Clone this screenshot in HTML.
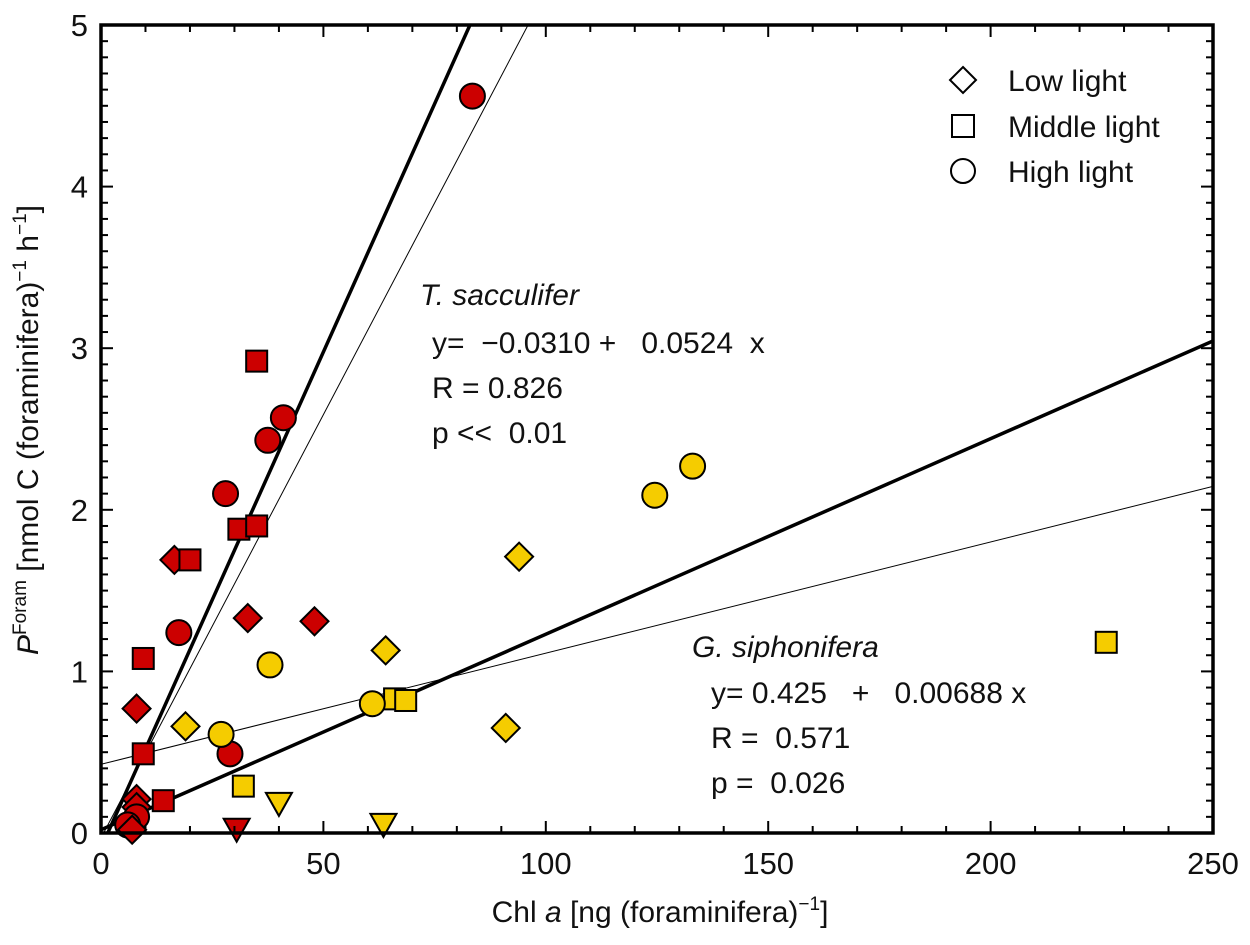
<!DOCTYPE html>
<html><head><meta charset="utf-8"><style>
body{margin:0;background:#fff;}
svg{display:block;font-family:"Liberation Sans",sans-serif;}
text{white-space:pre;}
</style></head><body>
<svg id="chart" width="1250" height="945" viewBox="0 0 1250 945">
<g id="lines"></g>
<g id="marks"></g>
<g id="axes"></g>
<g font-size="30" fill="#111">
<text x="420" y="305" font-style="italic">T. sacculifer</text>
<text x="432" y="353">y=  −0.0310 +   0.0524  x</text>
<text x="432" y="398">R = 0.826</text>
<text x="432" y="443">p &lt;&lt;  0.01</text>
<text x="692" y="657" font-style="italic">G. siphonifera</text>
<text x="711" y="703">y= 0.425   +   0.00688 x</text>
<text x="711" y="748">R =  0.571</text>
<text x="711" y="793">p =  0.026</text>
</g>
<g font-size="30" fill="#111">
<g><polygon points="963,67 976,80 963,93 950,80" fill="#fff" stroke="#000" stroke-width="2"/><text x="1008" y="91">Low light</text></g>
<g><rect x="952" y="115" width="22" height="22" fill="#fff" stroke="#000" stroke-width="2"/><text x="1008" y="137">Middle light</text></g>
<g><circle cx="963" cy="171" r="12" fill="#fff" stroke="#000" stroke-width="2"/><text x="1008" y="182">High light</text></g>
</g>
<text x="660" y="922" font-size="30" text-anchor="middle" fill="#111">Chl <tspan font-style="italic">a</tspan> [ng (foraminifera)<tspan dy="-12" font-size="19">−1</tspan><tspan dy="12">]</tspan></text>
<text transform="translate(38,430) rotate(-90)" font-size="30" text-anchor="middle" fill="#111"><tspan font-style="italic">P</tspan><tspan dy="-12" font-size="19">Foram</tspan><tspan dy="12"> [nmol C (foraminifera)</tspan><tspan dy="-12" font-size="19">−1</tspan><tspan dy="12"> h</tspan><tspan dy="-12" font-size="19">−1</tspan><tspan dy="12">]</tspan></text>
</svg>
<script>
const redX=[83.5,35,41,37.5,28,31,35,16.5,20,33,48,17.5,9.5,8,9.5,29,14,8,8,8,6,7];
const redY=[4.56,2.92,2.57,2.43,2.10,1.88,1.90,1.69,1.69,1.33,1.31,1.24,1.08,0.77,0.49,0.49,0.20,0.21,0.16,0.10,0.05,0.02];
const redShape=["c","s","c","c","c","s","s","d","s","d","d","c","s","d","s","c","s","d","d","c","c","d"];
const yelX=[133,124.5,94,64,38,226,66,68.5,61,19,27,91,32];
const yelY=[2.27,2.09,1.71,1.13,1.04,1.18,0.83,0.82,0.80,0.66,0.61,0.65,0.29];
const yelShape=["c","c","d","d","c","s","s","s","c","d","c","d","s"];
const triX=[30.5,40,63.5];
const triY=[0.02,0.18,0.05];
const triColor=["#cc0000","#f5cc00","#f5cc00"];
const lineIntercepts=[-0.093,-0.031,0.02,0.425];
const lineSlopes=[0.0614,0.0524,0.0121,0.00688];
const lineWidths=[3.5,1,3.5,1];
const xTicks=[0,50,100,150,200,250];
const yTicks=[0,1,2,3,4,5];
const X0=101,X1=1213,Y0=833,Y1=25;
const sx=v=>X0+(v/250)*(X1-X0);
const sy=v=>Y0-(v/5)*(Y0-Y1);
const NS="http://www.w3.org/2000/svg";
function mk(t,a,p){const e=document.createElementNS(NS,t);for(const k in a)e.setAttribute(k,a[k]);p.appendChild(e);return e;}
const marks=document.getElementById('marks'),lines=document.getElementById('lines'),axes=document.getElementById('axes');
const defs=mk('defs',{},document.getElementById('chart'));
const cp=mk('clipPath',{id:'plot'},defs);mk('rect',{x:X0,y:Y1,width:X1-X0,height:Y0-Y1},cp);
lines.setAttribute('clip-path','url(#plot)');
for(let i=0;i<lineSlopes.length;i++){
 const x2=250;
 const l=mk('line',{x1:sx(0),y1:sy(lineIntercepts[i]),x2:sx(x2),y2:sy(lineIntercepts[i]+lineSlopes[i]*x2),stroke:'#000','stroke-width':lineWidths[i]},lines);
 
 
}
function shape(s,x,y,fill){
 const px=sx(x),py=sy(y);let e;
 const st={fill:fill,stroke:'#000','stroke-width':2};
 if(s==='c')e=mk('circle',Object.assign({cx:px,cy:py,r:12.5},st),marks);
 else if(s==='s')e=mk('rect',Object.assign({x:px-10.5,y:py-10.5,width:21,height:21},st),marks);
 else if(s==='d')e=mk('polygon',Object.assign({points:`${px},${py-14} ${px+14},${py} ${px},${py+14} ${px-14},${py}`},st),marks);
 else e=mk('polygon',Object.assign({points:`${px-13},${py-11} ${px+13},${py-11} ${px},${py+12}`},st),marks);
 return e;
}
for(let i=0;i<redX.length;i++){const e=shape(redShape[i],redX[i],redY[i],'#cc0000');
 
 }
for(let i=0;i<yelX.length;i++){const e=shape(yelShape[i],yelX[i],yelY[i],'#f5cc00');
 
 }
for(let i=0;i<triX.length;i++){const e=shape('t',triX[i],triY[i],triColor[i]);
 
 }
const box=mk('rect',{x:X0,y:Y1,width:X1-X0,height:Y0-Y1,fill:'none',stroke:'#000','stroke-width':3.5},axes);


for(let v=0;v<=250;v+=10){const maj=v%50===0,L=maj?12:7;
 mk('line',{x1:sx(v),y1:Y0,x2:sx(v),y2:Y0-L,stroke:'#000','stroke-width':2},axes);
 mk('line',{x1:sx(v),y1:Y1,x2:sx(v),y2:Y1+L,stroke:'#000','stroke-width':2},axes);}
for(let k=0;k<=50;k++){const v=k/10,maj=k%10===0,L=maj?12:7;
 mk('line',{x1:X0,y1:sy(v),x2:X0+L,y2:sy(v),stroke:'#000','stroke-width':2},axes);
 mk('line',{x1:X1,y1:sy(v),x2:X1-L,y2:sy(v),stroke:'#000','stroke-width':2},axes);}
xTicks.forEach(v=>{const t=mk('text',{x:sx(v),y:874,'font-size':31,'text-anchor':'middle',fill:'#111'},axes);t.textContent=v;
 
 });
yTicks.forEach(v=>{const t=mk('text',{x:88,y:sy(v)+11,'font-size':31,'text-anchor':'end',fill:'#111'},axes);t.textContent=v;
 
 });
</script>
</body></html>
